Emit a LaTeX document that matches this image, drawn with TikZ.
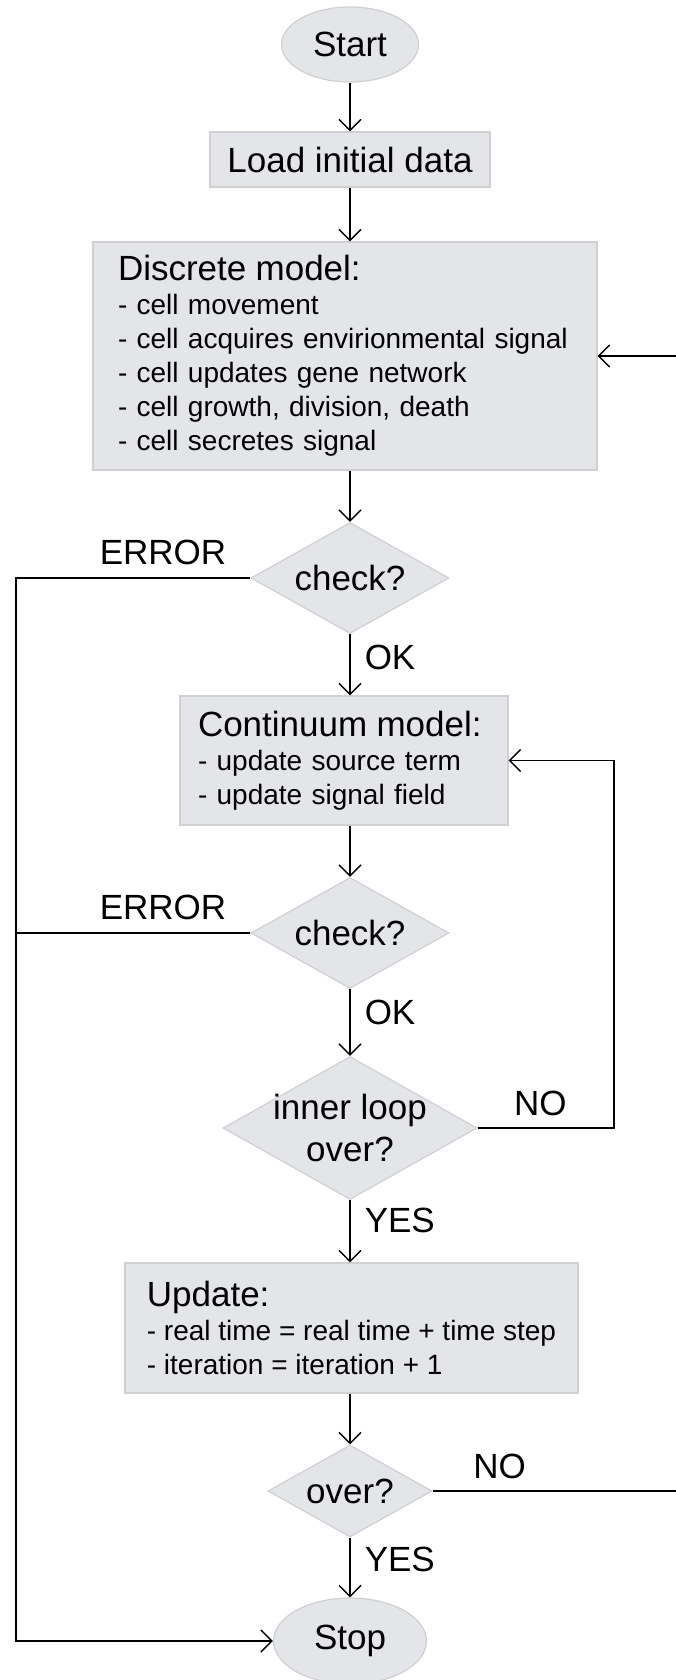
\documentclass[tikz,border=0pt]{standalone}
\usepackage{fontspec}
\setmainfont{Liberation Sans}
\usetikzlibrary{shapes.geometric, arrows.meta}

\newcommand{\bigfont}{\fontsize{35}{42}\selectfont}
\newcommand{\listfont}{\fontsize{28}{34}\selectfont}

\definecolor{boxfill}{RGB}{228,229,232}
\definecolor{boxline}{RGB}{208,208,210}

\begin{document}
\begin{tikzpicture}[
    x=1pt, y=-1pt,
    every node/.style={font=\bigfont},
    >={Straight Barb[length=11pt, width=22pt]},
    flow/.style={->, line width=1.5pt},
    link/.style={line width=1.5pt},
    terminal/.style={ellipse, fill=boxfill, draw=boxline, line width=1.2pt, inner sep=0pt},
    process/.style={rectangle, fill=boxfill, draw=boxline, line width=1.2pt, inner sep=0pt},
    listbox/.style={process, font=\listfont, align=left},
    decision/.style={diamond, aspect=1.78, fill=boxfill, draw=boxline, line width=1.2pt,
                     inner sep=-4pt, align=center},
    lbl/.style={inner sep=0pt},
]

% === Page ===
\def\colx{350}
\fill[white] (0,0) rectangle (676,1680);
\useasboundingbox (0,0) rectangle (676,1680);

% === Main column ===
\node[terminal, minimum width=137pt, minimum height=75pt] (start) at (\colx, 44.5) {Start};
\node[process, minimum width=280pt, minimum height=55pt] (load) at (\colx, 159.5) {Load initial data};

\node[listbox, text width=454pt, inner xsep=25pt, minimum height=228pt] (discrete) at (345, 356) {%
    {\bigfont Discrete model:}\\
    - cell movement\\
    - cell acquires envirionmental signal\\
    - cell updates gene network\\
    - cell growth, division, death\\
    - cell secretes signal};

\node[decision, minimum width=198pt, minimum height=111pt] (check1) at (\colx, 578) {check?};

\node[listbox, text width=292pt, inner xsep=18pt, minimum height=129pt] (continuum) at (344, 760.5) {%
    {\bigfont Continuum model:}\\
    - update source term\\
    - update signal field};

\node[decision, minimum width=198pt, minimum height=111pt] (check2) at (\colx, 933) {check?};
\node[decision, minimum width=254pt, minimum height=143pt] (inner) at (\colx, 1128) {inner loop\\over?};

% no text width here: the long line must stay on one row
\node[listbox, minimum width=453pt, minimum height=130pt] (update) at (351.5, 1328) {%
    {\bigfont Update:}\\
    - real time = real time + time step\\
    - iteration = iteration + 1};

\node[decision, minimum width=164pt, minimum height=92pt] (over) at (\colx, 1491) {over?};
\node[terminal, minimum width=153pt, minimum height=86pt] (stop) at (\colx, 1641) {Stop};

% === Straight-down arrows ===
\draw[flow] (start.south) -- (load.north);
\draw[flow] (load.south) -- (load.south |- discrete.north);
\draw[flow] (check1.north |- discrete.south) -- (check1.north);
\draw[flow] (check1.south) -- node[lbl, pos=0.38, right=14pt] (ok1) {OK} (check1.south |- continuum.north);
\draw[flow] (check2.north |- continuum.south) -- (check2.north);
\draw[flow] (check2.south) -- node[lbl, pos=0.35, right=14pt] (ok2) {OK} (inner.north);
\draw[flow] (inner.south) -- node[lbl, pos=0.33, right=14pt] (yes1) {YES} (inner.south |- update.north);
\draw[flow] (over.north |- update.south) -- (over.north);
\draw[flow] (over.south) -- node[lbl, pos=0.37, right=14pt] (yes2) {YES} (stop.north);

% === Side branches ===
\coordinate (leftbus) at (16, 0);
\coordinate (rightbus) at (614, 0);
\coordinate (outerbus) at (690, 0);

% error exits run down the left edge into Stop
\draw[flow] (check1.west) -- node[lbl, pos=0.1, anchor=south east, yshift=12pt] (err1) {ERROR}
    (check1.west -| leftbus) |- (stop.west);
\draw[link] (check2.west) -- node[lbl, pos=0.1, anchor=south east, yshift=12pt] (err2) {ERROR}
    (check2.west -| leftbus);

% inner loop back to the continuum model
\draw[flow] (inner.east) -- node[lbl, pos=0.46, anchor=south, yshift=11pt] (no1) {NO}
    (inner.east -| rightbus) |- (continuum.east);

% outer loop back to the discrete model (vertical leg lies off the page)
\draw[flow] (over.east) -- node[lbl, pos=0.26, anchor=south, yshift=11pt] (no2) {NO}
    (over.east -| outerbus) |- (discrete.east);

\end{tikzpicture}
\end{document}
